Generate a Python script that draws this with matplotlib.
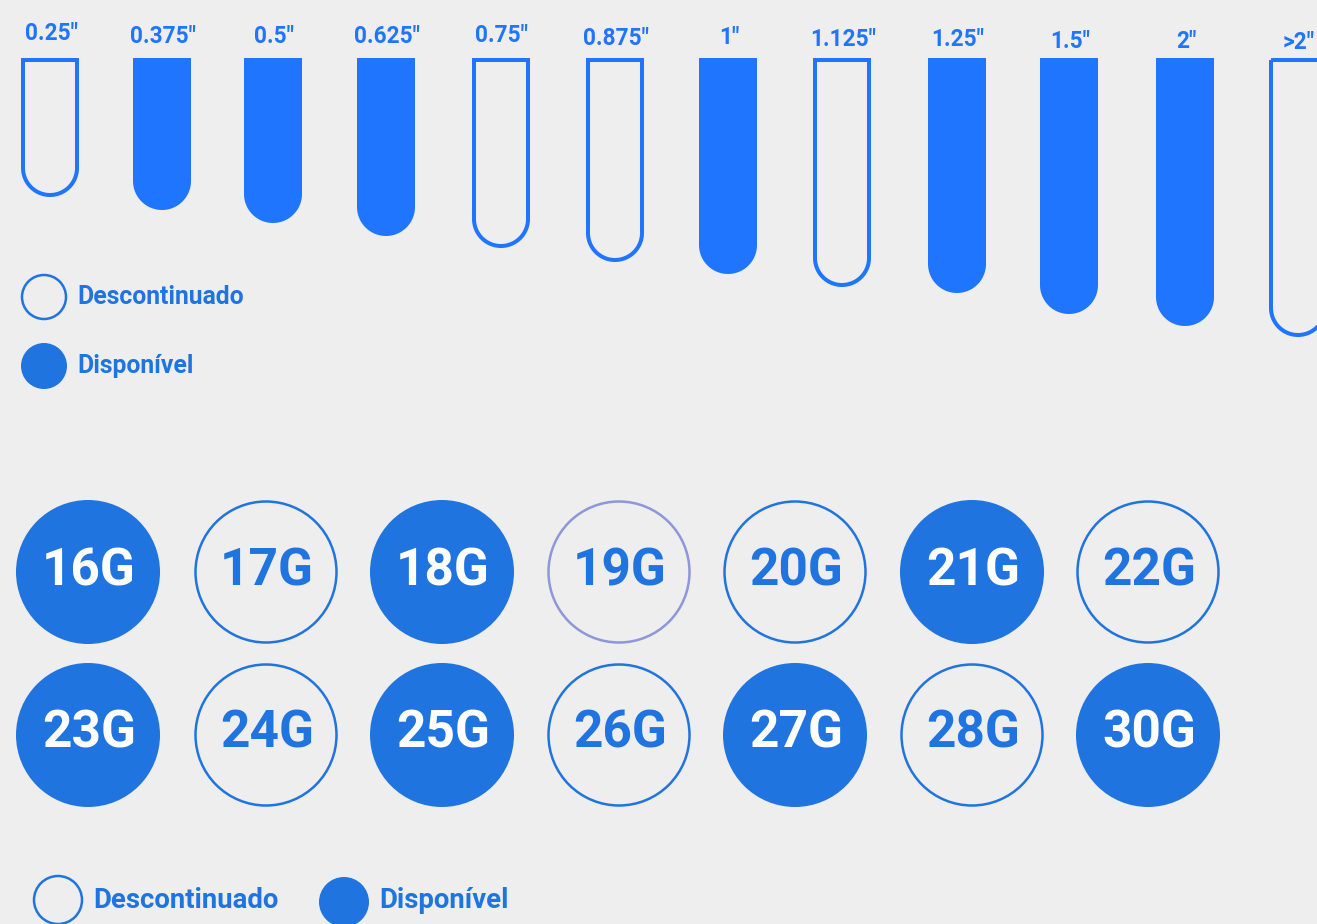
import numpy as np
import matplotlib
matplotlib.use("Agg")
import matplotlib.pyplot as plt
from matplotlib.patches import Polygon, Circle

# ---------------- data ----------------
tube_sizes = ['0.25"', '0.375"', '0.5"', '0.625"', '0.75"', '0.875"', '1"',
              '1.125"', '1.25"', '1.5"', '2"', '>2"']
tube_length = [139, 152, 165, 178, 190, 204, 216, 229, 235, 256, 268, 279]
tube_available = [False, True, True, True, False, False, True, False, True, True, True, False]

gauges = ['16G', '17G', '18G', '19G', '20G', '21G', '22G',
          '23G', '24G', '25G', '26G', '27G', '28G', '30G']
gauge_available = [True, False, True, False, False, True, False,
                   True, False, True, False, True, False, True]

legend_labels = ['Descontinuado', 'Disponível']

# ---------------- style / layout ----------------
BG = '#eeeeee'
TUBE_BLUE = '#1f75fe'
DARK_BLUE = '#2074e0'
ODD_OUTLINE = '#8f96d9'
FONT = ['Roboto', 'DejaVu Sans']

W, H = 1317, 924
fig = plt.figure(figsize=(W / 100, H / 100), dpi=100, facecolor=BG)
ax = fig.add_axes([0, 0, 1, 1])
ax.set_xlim(0, W)
ax.set_ylim(H, 0)
ax.set_facecolor(BG)
ax.axis('off')

# tubes
tube_cx = [50, 162, 273, 386, 501, 615, 728, 842, 957, 1069, 1185, 1298]
tube_top = 58
tube_w = 58
label_base = [40, 43, 43, 43, 42, 45, 44, 46, 46, 48, 48, 49]
lw_px = 4


def tube_poly(cx, top, length, w):
    r = w / 2
    yc = top + length - r
    th = np.linspace(np.pi, 0, 60)
    arc = np.column_stack([cx + r * np.cos(th), yc + r * np.sin(th)])
    pts = np.vstack([[cx - r, top], arc, [cx + r, top]])
    return pts


for i, (lab, L, av) in enumerate(zip(tube_sizes, tube_length, tube_available)):
    cx = tube_cx[i]
    if av:
        pts = tube_poly(cx, tube_top, L, tube_w)
        ax.add_patch(Polygon(pts, closed=True, facecolor=TUBE_BLUE, edgecolor='none'))
    else:
        inset = lw_px / 2
        pts = tube_poly(cx, tube_top + inset, L - 2 * inset, tube_w - 2 * inset)
        ax.add_patch(Polygon(pts, closed=True, facecolor='none', edgecolor=TUBE_BLUE,
                             linewidth=lw_px * 0.72, joinstyle='miter'))
    ax.text(cx + 1, label_base[i], lab, ha='center', va='baseline', color=TUBE_BLUE,
            fontsize=16.3, fontweight='bold', family=FONT)

# top legend
for j, (lab, filled) in enumerate(zip(legend_labels, [False, True])):
    cy = 297 + j * 69
    if filled:
        ax.add_patch(Circle((44, cy), 23, facecolor=DARK_BLUE, edgecolor='none'))
    else:
        ax.add_patch(Circle((44, cy), 22, facecolor='none', edgecolor=DARK_BLUE, linewidth=1.8))
    ax.text(77, cy, lab, ha='left', va='center', color=DARK_BLUE, fontsize=17.8,
            fontweight='bold', family=FONT)

# gauge circles
g_cx = [88, 266, 442, 619, 795, 972, 1148]
g_y = [572, 735]
R = 71
for k, (g, av) in enumerate(zip(gauges, gauge_available)):
    row, col = divmod(k, 7)
    cx = g_cx[col]
    cy = g_y[row]
    if av:
        ax.add_patch(Circle((cx, cy), R + 1, facecolor=DARK_BLUE, edgecolor='none'))
        tc = 'white'
    else:
        ec = ODD_OUTLINE if g == '19G' else DARK_BLUE
        ax.add_patch(Circle((cx, cy), R - 0.5, facecolor='none', edgecolor=ec, linewidth=1.8))
        tc = DARK_BLUE
    ax.text(cx + 1, cy - 1, g, ha='center', va='center', color=tc, fontsize=37,
            fontweight='bold', family=FONT)

# bottom legend
ax.add_patch(Circle((58, 900), 24, facecolor='none', edgecolor=DARK_BLUE, linewidth=1.8))
ax.text(93, 900, legend_labels[0], ha='left', va='center', color=DARK_BLUE,
        fontsize=19.8, fontweight='bold', family=FONT)
ax.add_patch(Circle((344, 902), 25, facecolor=DARK_BLUE, edgecolor='none'))
ax.text(379, 900, legend_labels[1], ha='left', va='center', color=DARK_BLUE,
        fontsize=19.8, fontweight='bold', family=FONT)

fig.savefig('out.png', dpi=100, facecolor=BG)
